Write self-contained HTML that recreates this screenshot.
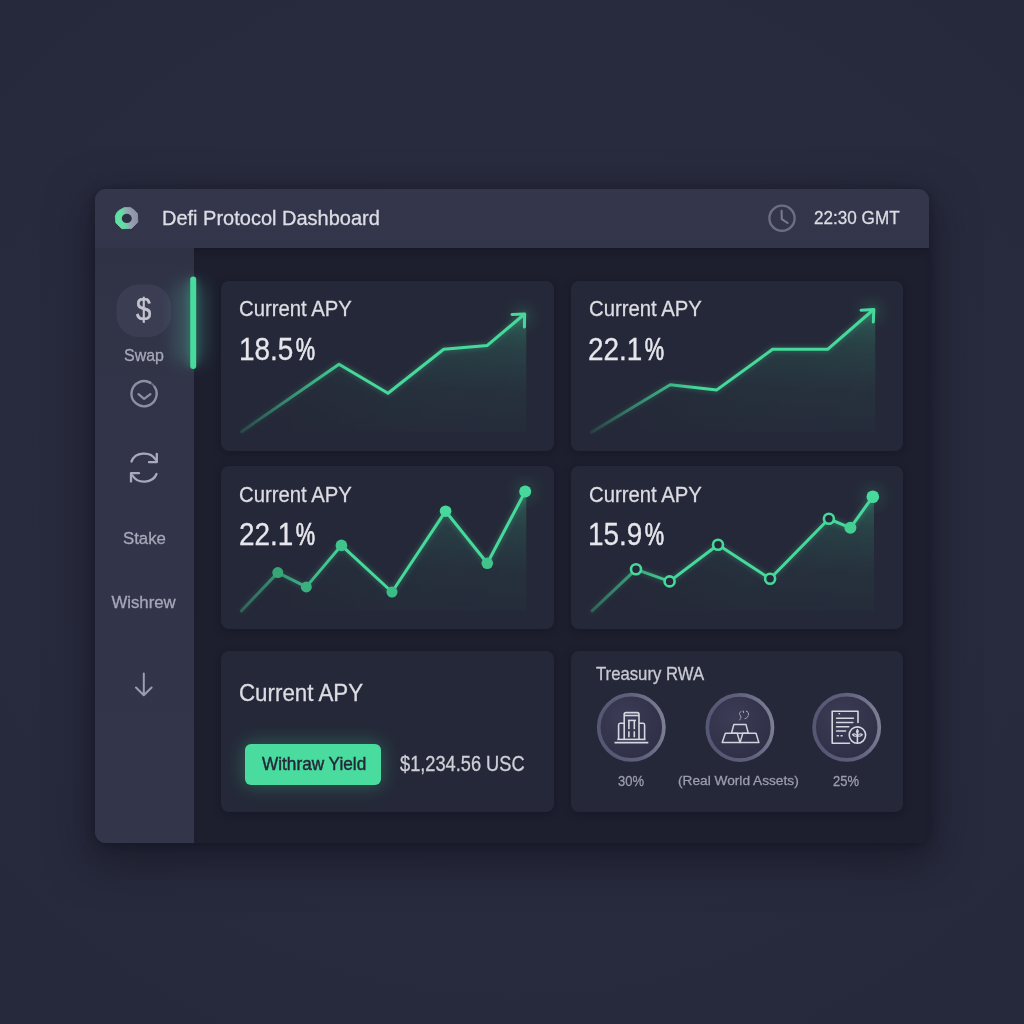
<!DOCTYPE html>
<html><head><meta charset="utf-8"><title>Defi Protocol Dashboard</title>
<style>
*{margin:0;padding:0;box-sizing:border-box}
html,body{width:1024px;height:1024px;overflow:hidden}
body{position:relative;font-family:"Liberation Sans",Arial,sans-serif;
background:radial-gradient(ellipse 760px 700px at 512px 480px,#2a2d40 0%,#282b3e 60%,#26293c 100%);}
.abs{position:absolute}
.t{position:absolute;line-height:1;white-space:nowrap;transform-origin:0 0;-webkit-text-stroke-width:.3px}
#panel{left:95px;top:189px;width:834px;height:654px;border-radius:11px;overflow:hidden;
 box-shadow:0 14px 44px 4px rgba(12,13,22,.5),0 2px 10px rgba(10,11,20,.35)}
#header{left:0;top:0;width:834px;height:59px;background:linear-gradient(180deg,#34374b,#33364a)}
#side{left:0;top:59px;width:99px;height:595px;background:linear-gradient(180deg,#2f3245 0px,#313447 60px,#32354a 300px,#33364b 100%)}
#content{left:99px;top:59px;width:735px;height:595px;background:#1d1f2f;box-shadow:inset 0 8px 10px -6px rgba(8,9,16,.35)}
.card{position:absolute;background:#252838;border-radius:8px;box-shadow:0 2px 8px rgba(8,9,16,.3)}
.ttl{color:#dcdce3}
.num{font-size:30.5px;transform:scaleX(.915);color:#e6e6ec}
.pc{display:inline-block;transform:scaleX(.78);transform-origin:0 0;margin-left:2.4px;-webkit-text-stroke-width:.7px}
</style></head>
<body>
<div id="panel" class="abs">
  <div id="header" class="abs"></div>
  <div id="side" class="abs"></div>
  <div id="content" class="abs"></div>
</div>

<!-- cards (page coords) -->
<div class="card" style="left:221px;top:281px;width:333px;height:170px"></div>
<div class="card" style="left:571px;top:281px;width:332px;height:170px"></div>
<div class="card" style="left:221px;top:466px;width:333px;height:163px"></div>
<div class="card" style="left:571px;top:466px;width:332px;height:163px"></div>
<div class="card" style="left:221px;top:651px;width:333px;height:161px"></div>
<div class="card" style="left:571px;top:651px;width:332px;height:161px"></div>

<!-- header text -->
<div class="t ttl" style="left:162px;top:207.9px;font-size:20px;color:#dddde5">Defi Protocol Dashboard</div>
<div class="t" style="left:813.5px;top:209px;font-size:18.5px;transform:scaleX(.925);color:#dcdce4">22:30 GMT</div>

<!-- card titles -->
<div class="t ttl" style="left:239px;top:297.9px;font-size:21.9px;transform:scaleX(.928)">Current APY</div>
<div class="t ttl" style="left:588.6px;top:297.9px;font-size:21.9px;transform:scaleX(.928)">Current APY</div>
<div class="t ttl" style="left:238.7px;top:483.5px;font-size:21.9px;transform:scaleX(.928)">Current APY</div>
<div class="t ttl" style="left:588.9px;top:483.5px;font-size:21.9px;transform:scaleX(.928)">Current APY</div>
<div class="t ttl" style="left:239.2px;top:680.9px;font-size:24px;transform:scaleX(.93)">Current APY</div>

<div class="t num" style="left:238.7px;top:333.5px">18.5<span class="pc">%</span></div>
<div class="t num" style="left:588.3px;top:333.7px">22.1<span class="pc">%</span></div>
<div class="t num" style="left:238.7px;top:519.1px">22.1<span class="pc">%</span></div>
<div class="t num" style="left:587.9px;top:519.1px">15.9<span class="pc">%</span></div>

<!-- button -->
<div class="abs" style="left:244.6px;top:744px;width:136.5px;height:40.5px;border-radius:6px;background:#4adb9e;box-shadow:0 0 18px 2px rgba(70,217,155,.28)"></div>
<div class="t" style="left:261.9px;top:754.7px;font-size:18.5px;transform:scaleX(.93);color:#242839;-webkit-text-stroke:.45px #242839">Withraw Yield</div>
<div class="t" style="left:400.3px;top:752.9px;font-size:21.2px;transform:scaleX(.86);color:#cfcfd8">$1,234.56 USC</div>

<!-- treasury -->
<div class="t" style="left:596.3px;top:665.6px;font-size:17.8px;transform:scaleX(.94);color:#cacad3">Treasury RWA</div>
<div class="t" style="left:618px;top:773.6px;font-size:14.6px;transform:scaleX(.89);color:#9d9db0">30%</div>
<div class="t" style="left:678px;top:774.4px;font-size:13.7px;color:#9d9db0">(Real World Assets)</div>
<div class="t" style="left:833.2px;top:773.6px;font-size:14.6px;transform:scaleX(.89);color:#9d9db0">25%</div>

<!-- sidebar labels -->
<div class="t" style="left:136.3px;top:294.4px;font-size:31px;transform:scaleX(.89);color:#c4c4d0;-webkit-text-stroke:.5px #c4c4d0;z-index:2">$</div>
<div class="t" style="left:124px;top:347.5px;font-size:16.8px;transform:scaleX(.95);color:#a7a7b9">Swap</div>
<div class="t" style="left:123px;top:530.9px;font-size:16.8px;color:#a7a7b9">Stake</div>
<div class="t" style="left:111.4px;top:594.8px;font-size:16.8px;color:#a7a7b9">Wishrew</div>

<svg class="abs" style="left:0;top:0" width="1024" height="1024" viewBox="0 0 1024 1024">
<defs>
  <linearGradient id="logoG" x1="0.1" y1="0.6" x2="0.9" y2="0.45">
    <stop offset="0" stop-color="#5ee2a2"/><stop offset="0.3" stop-color="#64dca4"/><stop offset="0.68" stop-color="#9a9eb6"/><stop offset="1" stop-color="#8f94aa"/>
  </linearGradient>
  <linearGradient id="ln1" gradientUnits="userSpaceOnUse" x1="241" y1="0" x2="350" y2="0">
    <stop offset="0" stop-color="#46d99b" stop-opacity=".15"/><stop offset="1" stop-color="#46d99b" stop-opacity="1"/>
  </linearGradient>
  <linearGradient id="ln2" gradientUnits="userSpaceOnUse" x1="591" y1="0" x2="700" y2="0">
    <stop offset="0" stop-color="#46d99b" stop-opacity=".12"/><stop offset="1" stop-color="#46d99b" stop-opacity="1"/>
  </linearGradient>
  <linearGradient id="ln3" gradientUnits="userSpaceOnUse" x1="241" y1="0" x2="345" y2="0">
    <stop offset="0" stop-color="#46d99b" stop-opacity=".3"/><stop offset="1" stop-color="#46d99b" stop-opacity="1"/>
  </linearGradient>
  <linearGradient id="ln4" gradientUnits="userSpaceOnUse" x1="591" y1="0" x2="680" y2="0">
    <stop offset="0" stop-color="#46d99b" stop-opacity=".3"/><stop offset="1" stop-color="#46d99b" stop-opacity="1"/>
  </linearGradient>
  <linearGradient id="fillV" x1="0" y1="0" x2="0" y2="1">
    <stop offset="0" stop-color="#3fcf95" stop-opacity=".30"/><stop offset=".3" stop-color="#3fcf95" stop-opacity=".15"/><stop offset=".65" stop-color="#3fcf95" stop-opacity=".06"/><stop offset="1" stop-color="#3fcf95" stop-opacity=".025"/>
  </linearGradient>
  <linearGradient id="fillH" x1="0" y1="0" x2="1" y2="0">
    <stop offset="0" stop-color="#fff" stop-opacity="0"/><stop offset=".55" stop-color="#fff" stop-opacity=".8"/><stop offset="1" stop-color="#fff" stop-opacity="1"/>
  </linearGradient>
  <mask id="mH1" maskContentUnits="objectBoundingBox"><rect x="0" y="0" width="1" height="1" fill="url(#fillH)"/></mask>
  <filter id="lglow" x="-10%" y="-30%" width="120%" height="160%"><feGaussianBlur stdDeviation="2.5"/></filter>
  <filter id="glow" x="-100%" y="-20%" width="300%" height="140%"><feGaussianBlur stdDeviation="3"/></filter>
  <filter id="bglow" x="-150%" y="-50%" width="400%" height="200%"><feGaussianBlur stdDeviation="8"/></filter>
  <radialGradient id="cfill" cx="0.4" cy="0.35" r="0.7">
    <stop offset="0" stop-color="#3c3c56"/><stop offset="1" stop-color="#2e2f45"/>
  </radialGradient>
  <linearGradient id="ring" x1="0" y1="0.2" x2="1" y2="0">
    <stop offset="0" stop-color="#565774"/><stop offset=".5" stop-color="#5f607c"/><stop offset="1" stop-color="#818398"/>
  </linearGradient>
</defs>

<!-- logo -->
<path d="M124.2 207.6 L130.3 207.4 Q134.5 209.5 137.4 213.6 L137.8 222.2 L131.6 228.4 L121.8 228.7 L115.8 222.8 L115.3 216.2 Q116.3 212.5 118.6 210.7 Z Z" fill="url(#logoG)" stroke="url(#logoG)" stroke-width=".8" stroke-linejoin="round"/>
<ellipse cx="126.8" cy="218.4" rx="5" ry="4.6" fill="#2d3143"/>
<!-- clock -->
<circle cx="782" cy="218.2" r="12.6" fill="none" stroke="#6d6d86" stroke-width="2.4"/>
<path d="M781.6 210.8 L781.8 219.2 L787.6 223" fill="none" stroke="#7a7a92" stroke-width="2" stroke-linecap="round" stroke-linejoin="round"/>

<!-- sidebar: $ bg -->
<rect x="116.5" y="284.5" width="54.5" height="52.5" rx="22" fill="#3b3d52"/>
<!-- green active bar -->
<rect x="174" y="282" width="32" height="82" rx="12" fill="#5cc7b0" opacity=".2" filter="url(#bglow)"/>
<rect x="187" y="277" width="12" height="91" rx="6" fill="#46d99b" opacity=".18" filter="url(#glow)"/>
<rect x="190.2" y="276.6" width="6" height="92.4" rx="3" fill="#47db9d"/>
<!-- chevron circle -->
<path d="M150.5 382.9 A12.6 12.6 0 1 0 154.3 386.4" fill="none" stroke="#8d8fa2" stroke-width="2.4" stroke-linecap="round"/>
<path d="M152.3 384.2 L153.2 385.1" fill="none" stroke="#6f7186" stroke-width="2" stroke-linecap="round"/>
<path d="M138.5 394.2 L144.1 398.9 L150.4 394.2" fill="none" stroke="#8d8fa2" stroke-width="2.3" stroke-linecap="round" stroke-linejoin="round"/>
<!-- refresh -->
<path d="M131.5 461.5 A13 11 0 0 1 155.5 459.5" fill="none" stroke="#a9a9bb" stroke-width="2.3" stroke-linecap="round"/>
<path d="M156.8 453.8 L156.8 462.2 L149 462.2" fill="none" stroke="#a9a9bb" stroke-width="2.3" stroke-linecap="round" stroke-linejoin="round"/>
<path d="M156.5 474 A13 11 0 0 1 132.5 475.5" fill="none" stroke="#a9a9bb" stroke-width="2.3" stroke-linecap="round"/>
<path d="M131 481.5 L131 473.2 L139 473.2" fill="none" stroke="#a9a9bb" stroke-width="2.3" stroke-linecap="round" stroke-linejoin="round"/>
<!-- down arrow -->
<path d="M143.8 673.5 L143.8 695 M136 687.5 L143.8 695.3 L151.6 687.5" fill="none" stroke="#9d9daf" stroke-width="2" stroke-linecap="round" stroke-linejoin="round"/>

<!-- chart 1 -->
<circle cx="522" cy="317" r="9" fill="#46d99b" opacity=".22" filter="url(#bglow)"/>
<circle cx="871" cy="312" r="9" fill="#46d99b" opacity=".22" filter="url(#bglow)"/>
<circle cx="525.2" cy="491.5" r="8" fill="#46d99b" opacity=".25" filter="url(#bglow)"/>
<circle cx="872.8" cy="496.7" r="8" fill="#46d99b" opacity=".25" filter="url(#bglow)"/>
<path d="M241.5 431.7 L339 364.2 L388 393.2 L443.7 349.3 L487.3 345.4 L525.2 313.6 L526.5 313.6 L526.5 432 Z" fill="url(#fillV)" mask="url(#mH1)"/>
<path d="M241.5 431.7 L339 364.2 L388 393.2 L443.7 349.3 L487.3 345.4 L524 314.5" fill="none" stroke="url(#ln1)" stroke-width="5" opacity=".25" filter="url(#lglow)" stroke-linejoin="round" stroke-linecap="round"/>
<path d="M241.5 431.7 L339 364.2 L388 393.2 L443.7 349.3 L487.3 345.4 L524 314.5" fill="none" stroke="url(#ln1)" stroke-width="3" stroke-linejoin="round" stroke-linecap="round"/>
<path d="M512 314.4 L524.6 314 L524.4 327" fill="none" stroke="#46d99b" stroke-width="3" stroke-linecap="round" stroke-linejoin="round"/>

<!-- chart 2 -->
<path d="M591.5 432.3 L670.2 384.8 L716.8 389.9 L772.6 349.3 L827.6 349.3 L874.3 309.1 L875.5 309.1 L875.5 432.3 Z" fill="url(#fillV)" mask="url(#mH1)"/>
<path d="M591.5 432.3 L670.2 384.8 L716.8 389.9 L772.6 349.3 L827.6 349.3 L873 310" fill="none" stroke="url(#ln2)" stroke-width="5" opacity=".25" filter="url(#lglow)" stroke-linejoin="round" stroke-linecap="round"/>
<path d="M591.5 432.3 L670.2 384.8 L716.8 389.9 L772.6 349.3 L827.6 349.3 L873 310" fill="none" stroke="url(#ln2)" stroke-width="3" stroke-linejoin="round" stroke-linecap="round"/>
<path d="M861 310.2 L873.8 309.6 L873.3 322" fill="none" stroke="#46d99b" stroke-width="3" stroke-linecap="round" stroke-linejoin="round"/>

<!-- chart 3 -->
<path d="M241.5 610.8 L277.8 572.6 L306.3 586.9 L341.4 545.4 L392 592 L445.6 511.2 L487.3 563.3 L525.2 491.5 L526.5 491.5 L526.5 611 Z" fill="url(#fillV)" mask="url(#mH1)"/>
<path d="M241.5 610.8 L277.8 572.6 L306.3 586.9 L341.4 545.4 L392 592 L445.6 511.2 L487.3 563.3 L525.2 491.5" fill="none" stroke="url(#ln3)" stroke-width="5" opacity=".25" filter="url(#lglow)" stroke-linejoin="round" stroke-linecap="round"/>
<path d="M241.5 610.8 L277.8 572.6 L306.3 586.9 L341.4 545.4 L392 592 L445.6 511.2 L487.3 563.3 L525.2 491.5" fill="none" stroke="url(#ln3)" stroke-width="3" stroke-linejoin="round" stroke-linecap="round"/>
<g fill="#46d99b">
<circle cx="277.8" cy="572.6" r="5.5" fill="#36a677"/>
<circle cx="306.3" cy="586.9" r="5.5" fill="#39b07e"/>
<circle cx="341.4" cy="545.4" r="5.8" fill="#3fc48b"/>
<circle cx="392" cy="592" r="5.5" fill="#3dbb86"/>
<circle cx="445.6" cy="511.2" r="5.8"/>
<circle cx="487.3" cy="563.3" r="5.8" fill="#40c48c"/>
<circle cx="525.2" cy="491.5" r="6"/>
</g>

<!-- chart 4 -->
<path d="M592.1 610.8 L636 569.3 L669.6 581.4 L718 544.8 L770.1 578.7 L828.9 518.8 L850.4 527.8 L872.8 496.7 L874 496.7 L874 611 Z" fill="url(#fillV)" mask="url(#mH1)"/>
<path d="M592.1 610.8 L636 569.3 L669.6 581.4 L718 544.8 L770.1 578.7 L828.9 518.8 L850.4 527.8 L872.8 496.7" fill="none" stroke="url(#ln4)" stroke-width="5" opacity=".25" filter="url(#lglow)" stroke-linejoin="round" stroke-linecap="round"/>
<path d="M592.1 610.8 L636 569.3 L669.6 581.4 L718 544.8 L770.1 578.7 L828.9 518.8 L850.4 527.8 L872.8 496.7" fill="none" stroke="url(#ln4)" stroke-width="3" stroke-linejoin="round" stroke-linecap="round"/>
<g fill="#252838" stroke="#46d99b" stroke-width="2.6">
<circle cx="636" cy="569.3" r="5"/>
<circle cx="669.6" cy="581.4" r="5"/>
<circle cx="718" cy="544.8" r="5"/>
<circle cx="770.1" cy="578.7" r="5"/>
<circle cx="828.9" cy="518.8" r="5"/>
</g>
<circle cx="850.4" cy="527.8" r="6" fill="#43cf94"/>
<circle cx="872.8" cy="496.7" r="6.3" fill="#48da9d"/>

<!-- treasury circles -->
<g>
<circle cx="631.3" cy="727.3" r="32.6" fill="url(#cfill)" stroke="url(#ring)" stroke-width="3.7"/>
<circle cx="739.9" cy="727.5" r="32.6" fill="url(#cfill)" stroke="url(#ring)" stroke-width="3.7"/>
<circle cx="846.7" cy="727.3" r="32.6" fill="url(#cfill)" stroke="url(#ring)" stroke-width="3.7"/>
</g>
<!-- building icon -->
<g fill="none" stroke="#d6d6e0" stroke-width="1.6" stroke-linejoin="round">
<path d="M614.5 742.6 H648.3"/>
<path d="M617.3 739.4 H645.5"/>
<path d="M624.2 739.4 V714.5 Q624.2 712.6 626 712.6 H637.2 Q639 712.6 639 714.5 V739.4"/>
<path d="M624.2 715.5 H639"/>
<path d="M624.2 723.3 H620 Q618.6 723.3 618.6 725 V739.4"/>
<path d="M639 723.3 H643.2 Q644.6 723.3 644.6 725 V739.4"/>
<path d="M627.9 720.4 H636"/>
<path d="M628.9 720.4 V729.2 M628.9 731.2 V737.2 M634.3 720.4 V729.2 M634.3 731.2 V737.2"/>
</g>
<!-- gold bars -->
<g fill="none" stroke="#d3d3de" stroke-width="1.5" stroke-linejoin="round">
<path d="M733.8 724.6 H746 L748.3 733.2 H731.5 Z"/>
<path d="M725.4 733.3 H737.2 L740 742.6 H722.2 Z"/>
<path d="M742.8 733.3 H756 L758.9 742.6 H740 Z"/>
</g>
<g fill="none" stroke="#b4b4c6" stroke-width="1" stroke-linecap="round" stroke-dasharray="1.6 1.2">
<path d="M740.8 711.5 Q738.6 713.5 740.3 715.6 Q741.8 717.6 739.6 720"/>
<path d="M743.2 711 L743.6 712.6"/>
<path d="M746.3 711.2 Q749.2 712.2 748.3 715.2 Q747.4 718.4 744.3 718.8"/>
</g>
<!-- document icon -->
<g fill="none" stroke="#d6d6e0" stroke-width="1.6" stroke-linecap="round" stroke-linejoin="round">
<path d="M849.5 743.3 H832.2 V711.3 H858 V722.5"/>
<path d="M836.6 718.2 H853.4 M836.6 722.5 H852.8 M836.6 726.7 H848.7 M836.6 731 H845.6"/>
<circle cx="857.4" cy="735.1" r="8.2"/>
<path d="M857.4 731.5 V742.6"/>
<path d="M857.4 736 Q854.8 732.6 852.4 734.6 Q854.4 737 857.4 736 Z M857.4 736 Q860 732.6 862.4 734.6 Q860.4 737 857.4 736 Z M857.4 733.4 Q855.8 731.3 857.4 729.4 Q859 731.3 857.4 733.4 Z" stroke-width="1.1"/>
</g>
<g fill="#d6d6e0"><rect x="836.6" y="735" width="2.4" height="1.6" rx=".6"/><rect x="840.4" y="735" width="2.4" height="1.6" rx=".6"/><rect x="838.5" y="713" width="1.6" height="1.4"/></g>
</svg>
</body></html>
